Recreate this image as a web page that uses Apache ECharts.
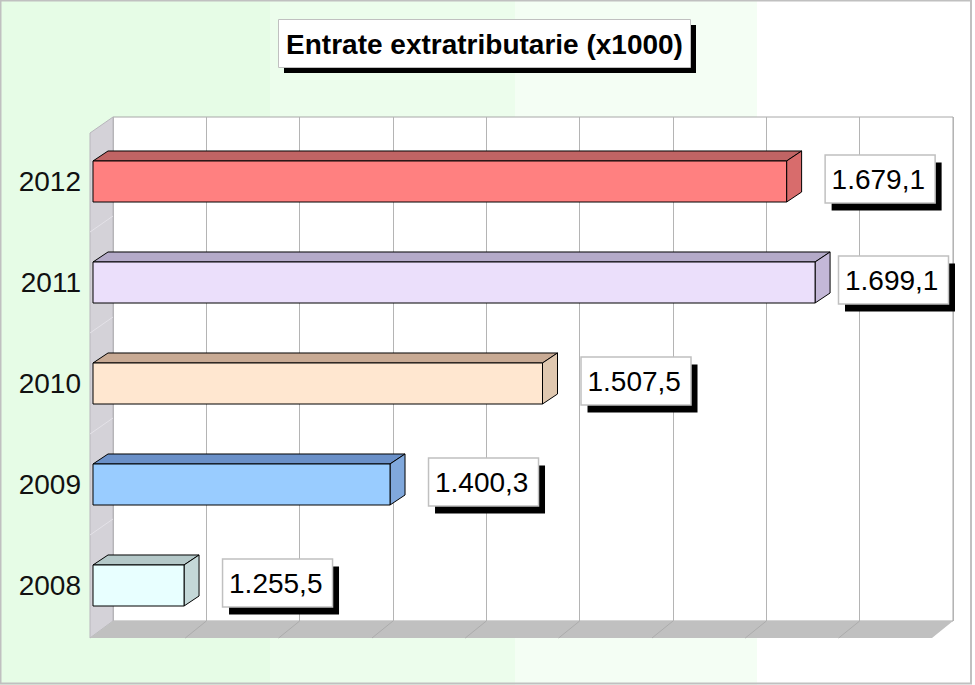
<!DOCTYPE html>
<html>
<head>
<meta charset="utf-8">
<script src="https://cdn.jsdelivr.net/npm/echarts@6/dist/echarts.min.js"></script>
<style>
html,body{margin:0;padding:0;background:#fff;}
#chart{width:975px;height:685px;}
</style>
</head>
<body>
<div id="chart"></div>
<script>
const categories = ['2008', '2009', '2010', '2011', '2012'];
const values = [1255.5, 1400.3, 1507.5, 1699.1, 1679.1];
const titleText = 'Entrate extratributarie (x1000)';
const frontColors = ['#e8ffff', '#99ccff', '#ffe7d0', '#ebdffb', '#ff8080'];
const topColors   = ['#b4c8c8', '#6a90c8', '#c8aa94', '#b4aac8', '#c06464'];
const sideColors  = ['#c4d8d8', '#80a8dc', '#e0c8b0', '#c4b8d8', '#d86c6c'];

const XMIN = 1191.5;
const XMAX = 1781.3;
const FONT = 'Liberation Sans';

function fmt(v) {
  const parts = v.toFixed(1).split('.');
  return parts[0].replace(/\B(?=(\d{3})+(?!\d))/g, '.') + ',' + parts[1];
}

const chart = echarts.init(document.getElementById('chart'), null, {renderer: 'svg'});

const graphics = [];
const bands = [[0, 270, '#e6fce6'], [270, 245, '#ecfdec'], [515, 242, '#f4fef4'], [757, 218, '#ffffff']];
bands.forEach(b => graphics.push({type: 'rect', z: -20, shape: {x: b[0], y: 0, width: b[1], height: 685}, style: {fill: b[2]}}));
graphics.push({type: 'rect', z: 50, shape: {x: 0.5, y: 0.5, width: 970.5, height: 683}, style: {fill: 'none', stroke: '#c0c0c0', lineWidth: 2}});
graphics.push({type: 'polygon', z: 1, shape: {points: [[90, 133], [113, 117], [113, 621], [90, 638]]}, style: {fill: '#d4d2d8', stroke: '#b8b6bc', lineWidth: 1}});
for (let k = 1; k < 5; k++) {
  const yf = 131 + 101 * k;
  graphics.push({type: 'line', z: 1, shape: {x1: 90, y1: yf, x2: 113, y2: yf - 16}, style: {stroke: '#e4e2e8', lineWidth: 1}});
}
graphics.push({type: 'polygon', z: 1, shape: {points: [[113, 621], [953, 621], [932, 638], [90, 638]]}, style: {fill: '#c0c0c0'}});
for (let k = 1; k < 9; k++) {
  const xb = 113 + k * 840 / 9;
  graphics.push({type: 'line', z: 1, shape: {x1: xb, y1: 621, x2: xb - 21, y2: 638}, style: {stroke: '#acacac', lineWidth: 1}});
}
graphics.push({type: 'rect', z: 10, shape: {x: 284, y: 25, width: 412, height: 48}, style: {fill: '#000'}});
graphics.push({type: 'rect', z: 11, shape: {x: 278.5, y: 19.5, width: 412, height: 48}, style: {fill: '#fff', stroke: '#c0c0c0', lineWidth: 1}});
graphics.push({type: 'text', z: 12, x: 484.5, y: 44, style: {text: titleText, fontSize: 28, fontWeight: 'bold', fontFamily: FONT, fill: '#000', align: 'center', verticalAlign: 'middle'}});

const option = {
  animation: false,
  backgroundColor: 'transparent',
  graphic: {elements: graphics},
  grid: [
    {left: 93, top: 131, width: 839, height: 505, show: false},
    {left: 113, top: 117, width: 840, height: 504, show: true, backgroundColor: '#ffffff', borderColor: '#a8a8a8', borderWidth: 1, z: 0}
  ],
  xAxis: [
    {type: 'value', gridIndex: 0, min: XMIN, max: XMAX, axisLine: {show: false}, axisTick: {show: false}, axisLabel: {show: false}, splitLine: {show: false}},
    {type: 'value', gridIndex: 1, min: 0, max: 9, interval: 1, axisLine: {show: false}, axisTick: {show: false}, axisLabel: {show: false}, splitLine: {show: true, lineStyle: {color: '#b4b4b4', width: 1}}}
  ],
  yAxis: [
    {type: 'category', gridIndex: 0, data: categories, axisLine: {show: false}, axisTick: {show: false},
     axisLabel: {margin: 12, fontSize: 28, fontFamily: FONT, color: '#111'}, splitLine: {show: false}},
    {type: 'value', gridIndex: 1, min: 0, max: 1, show: false, splitLine: {show: false}}
  ],
  series: [
    {type: 'line', xAxisIndex: 1, yAxisIndex: 1, data: [], silent: true},
    {
      type: 'custom',
      xAxisIndex: 0, yAxisIndex: 0,
      z: 5,
      data: values.map((v, i) => [v, i]),
      encode: {x: 0, y: 1},
      renderItem: function (params, api) {
        const v = api.value(0), i = api.value(1);
        const end = api.coord([v, i]);
        const start = api.coord([XMIN, i]);
        const band = api.size([0, 1])[1];
        const h = band * 0.406;
        const yc = end[1];
        const yt = yc - h / 2, yb = yc + h / 2;
        const x0 = start[0], xe = end[0];
        const dx = 15, dy = -10;
        const children = [
          {type: 'polygon', shape: {points: [[x0, yt], [x0 + dx, yt + dy], [xe + dx, yt + dy], [xe, yt]]},
           style: {fill: topColors[i], stroke: '#000', lineWidth: 1}},
          {type: 'polygon', shape: {points: [[xe, yt], [xe + dx, yt + dy], [xe + dx, yb + dy], [xe, yb]]},
           style: {fill: sideColors[i], stroke: '#000', lineWidth: 1}},
          {type: 'rect', shape: {x: x0, y: yt, width: xe - x0, height: h},
           style: {fill: frontColors[i], stroke: '#000', lineWidth: 1}}
        ];
        const bw = 110, bh = 48;
        const bx = Math.min(xe + 38, 948 - bw), by = yc - 3 - bh / 2;
        children.push({type: 'rect', shape: {x: bx + 7, y: by + 8, width: bw, height: bh}, style: {fill: '#000'}});
        children.push({type: 'rect', shape: {x: bx + 0.5, y: by + 0.5, width: bw, height: bh}, style: {fill: '#fff', stroke: '#c0c0c0', lineWidth: 1.5}});
        children.push({type: 'text', x: bx + 7, y: by + bh / 2 + 1, style: {text: fmt(v), fontSize: 28, fontFamily: FONT, fill: '#000',
          align: 'left', verticalAlign: 'middle'}});
        return {type: 'group', children: children};
      }
    }
  ]
};
chart.setOption(option);
</script>
</body>
</html>
